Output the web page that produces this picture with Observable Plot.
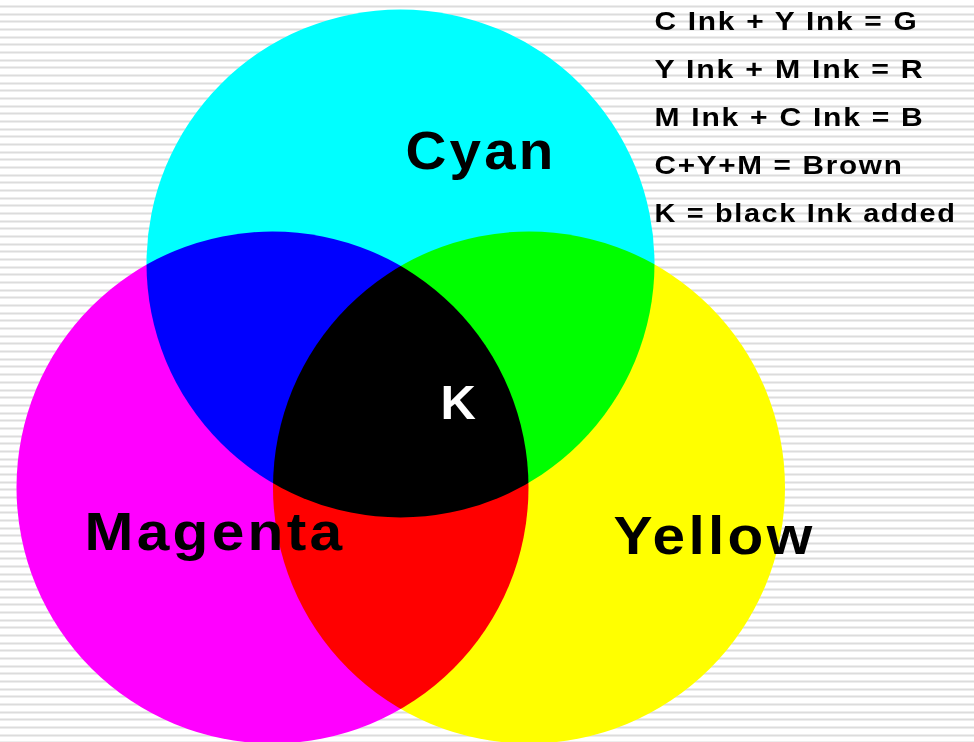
<!DOCTYPE html>
<html><head><meta charset="utf-8">
<script src="https://cdn.jsdelivr.net/npm/d3@7"></script>
<script src="https://cdn.jsdelivr.net/npm/@observablehq/plot@0.6"></script>
<style>html,body{margin:0;padding:0;background:#fff}svg{display:block}</style>
</head><body><div id="chart"></div>
<script>
// Inks (circles)
const inks = ["Cyan", "Magenta", "Yellow"];
const inkColors = ["#00ffff", "#ff00ff", "#ffff00"];
const centerX = [400, 272, 528.5];
const centerY = [263, 487, 487];
const radius = [254, 256, 256];

// Labels
const labels = ["Cyan", "Magenta", "Yellow", "K"];
const labelColors = ["#000", "#000", "#000", "#fff"];
const labelX = [405, 84, 613, 440];
const labelY = [168, 549, 553, 418];
const labelSize = [53, 53, 53, 49];
const labelLength = [151, 261, 202, null];

// Notes
const notes = ["C Ink + Y Ink = G", "Y Ink + M Ink = R", "M Ink + C Ink = B", "C+Y+M = Brown", "K = black Ink added"];
const noteX = 654;
const noteY = [29, 77, 125, 173, 221];
const noteLength = [264, 270, 270, 249, 302];

const W = 974, H = 742;
const circles = inks.map((name, i) => ({name, color: inkColors[i], cx: centerX[i], cy: centerY[i], r: radius[i]}));
const labelData = labels.map((t, i) => ({t, c: labelColors[i], x: labelX[i], y: labelY[i], s: labelSize[i]}));
const noteData = notes.map((t, i) => ({t, x: noteX, y: noteY[i]}));
const stripes = d3.range(0, 97).map(k => Math.round(5 + k * 7.67) + 1);

const font = "Liberation Sans, Arial, Helvetica, sans-serif";
const plot = Plot.plot({
  width: W, height: H, margin: 0,
  x: {domain: [0, W], range: [0, W], axis: null},
  y: {domain: [0, H], range: [0, H], axis: null},
  r: {type: "identity"},
  color: {type: "identity"},
  style: {background: "#fff", overflow: "hidden"},
  marks: [
    Plot.ruleY(stripes, {stroke: "#dcdcdc", strokeWidth: 2}),
    Plot.dot(circles, {x: "cx", y: "cy", r: "r", fill: "#fff"}),
    Plot.dot(circles, {x: "cx", y: "cy", r: "r", fill: "color", mixBlendMode: "multiply"}),
    Plot.text(labelData, {x: "x", y: "y", text: "t", fill: "c", textAnchor: "start", lineAnchor: "bottom",
      fontSize: "s", fontWeight: "bold", fontFamily: font}),
    Plot.text(noteData, {x: "x", y: "y", text: "t", fill: "#000", textAnchor: "start", lineAnchor: "bottom",
      fontSize: 26, fontWeight: "bold", fontFamily: font})
  ]
});
const textGroups = plot.querySelectorAll('g[aria-label="text"]');
if (textGroups[0]) {
  textGroups[0].setAttribute("letter-spacing", "3");
  textGroups[0].querySelectorAll("text").forEach(t => {
    const i = labels.indexOf(t.textContent);
    if (i >= 0 && labelLength[i]) {
      t.setAttribute("textLength", labelLength[i]);
      t.setAttribute("lengthAdjust", "spacingAndGlyphs");
    }
  });
}
if (textGroups[1]) {
  textGroups[1].setAttribute("letter-spacing", "1.5");
  textGroups[1].querySelectorAll("text").forEach(t => {
    const i = notes.indexOf(t.textContent);
    if (i >= 0) {
      t.setAttribute("textLength", noteLength[i]);
      t.setAttribute("lengthAdjust", "spacingAndGlyphs");
    }
  });
}
document.getElementById("chart").appendChild(plot);
</script>
</body></html>
